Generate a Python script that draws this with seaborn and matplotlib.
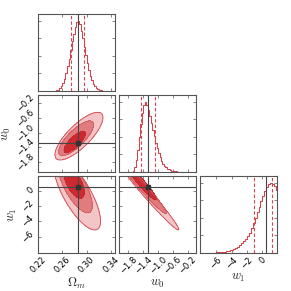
import numpy as np
import pandas as pd
import matplotlib
matplotlib.use("Agg")
import matplotlib.pyplot as plt
import seaborn as sns

# ---------------- values ----------------
param_labels = [r"$\Omega_m$", r"$w_0$", r"$w_1$"]
truths = [0.285, -1.28, 0.5]
axis_ranges = [(0.219, 0.346), (-2.06, 0.02), (-8.1, 1.9)]
axis_ticks = [[0.22, 0.26, 0.30, 0.34],
              [-1.8, -1.4, -1.0, -0.6, -0.2],
              [-6, -4, -2, 0]]
axis_ticklabels = [["0.22", "0.26", "0.30", "0.34"],
                   ["\u22121.8", "\u22121.4", "\u22121.0", "\u22120.6", "\u22120.2"],
                   ["\u22126", "\u22124", "\u22122", "0"]]
quantile_lo = [0.2737, -1.447, -1.14]
quantile_hi = [0.2957, -1.073, 1.22]

# marginal histograms (bin start, bin width, relative heights)
om_start, om_width = 0.245, 0.0025
om_hist = [0.0, 0.005, 0.01, 0.02, 0.04, 0.07, 0.11, 0.17, 0.25, 0.35, 0.46,
           0.58, 0.71, 0.82, 0.92, 0.99, 1.0, 0.95, 0.86, 0.75, 0.63, 0.51,
           0.40, 0.30, 0.22, 0.15, 0.10, 0.065, 0.04, 0.025, 0.015, 0.008,
           0.004, 0.0]
w0_start, w0_width = -1.72, 0.04
w0_hist = [0.0, 0.02, 0.07, 0.17, 0.32, 0.50, 0.68, 0.84, 0.95, 1.0, 0.96,
           0.89, 0.80, 0.70, 0.60, 0.51, 0.42, 0.34, 0.27, 0.21, 0.16, 0.12,
           0.09, 0.066, 0.048, 0.035, 0.025, 0.018, 0.013, 0.009, 0.006,
           0.004, 0.003, 0.002, 0.001, 0.001, 0.0]
w1_start, w1_width = -7.0, 0.25
w1_hist = [0.0, 0.002, 0.003, 0.004, 0.006, 0.008, 0.010, 0.013, 0.017,
           0.022, 0.028, 0.036, 0.046, 0.058, 0.072, 0.09, 0.11, 0.135,
           0.165, 0.20, 0.24, 0.29, 0.35, 0.42, 0.50, 0.58, 0.66, 0.74,
           0.82, 0.89, 0.94, 0.98, 1.00, 0.99, 0.95, 0.90]
hist_starts = [om_start, w0_start, w1_start]
hist_widths = [om_width, w0_width, w1_width]
hist_heights = [om_hist, w0_hist, w1_hist]

# 2-D confidence regions: for each pair (row, col), ellipses for the
# 99.7 %, 95 % and 68 % levels (outer -> inner)
contour_mass = [0.997, 0.954, 0.683]
pair_sigmas = {(1, 0): (0.0116, 0.189),
               (2, 0): (0.0112, 1.35),
               (2, 1): (0.245, 1.35)}
level_centers = {(1, 0): [(0.2872, -1.094), (0.2825, -1.151), (0.2803, -1.249)],
                 (2, 0): [(0.2845, -0.52), (0.2814, 0.455), (0.2790, 1.045)],
                 (2, 1): [(-1.275, -0.52), (-1.385, 0.355), (-1.418, 0.835)]}
level_rho = {(1, 0): [0.78, 0.78, 0.78],
             (2, 0): [-0.75, -0.72, -0.62],
             (2, 1): [-0.985, -0.975, -0.95]}

# ---------------- style ----------------
sns.set_style("ticks")
plt.rcParams["font.family"] = ["DejaVu Sans"]
plt.rcParams["mathtext.fontset"] = "cm"
plt.rcParams["axes.unicode_minus"] = True

RED = "#d6434a"
FILLS = ["#f3c5c6", "#e07b7e", "#cc2a30"]  # outer -> inner
EDGES = [RED, "#d45a5e", "#c42a30"]
TRUTH = "#454545"
FRAME = "#555555"

fig, axes = plt.subplots(3, 3, figsize=(2.91, 2.91), dpi=100)
fig.subplots_adjust(left=0.129, right=0.952, bottom=0.131, top=0.952,
                    wspace=0.052, hspace=0.052)

n = 3
for i in range(n):
    for j in range(n):
        ax = axes[i, j]
        if j > i:
            ax.set_visible(False)
            continue
        for s in ax.spines.values():
            s.set_color(FRAME)
            s.set_linewidth(0.8)
        ax.tick_params(direction="in", top=True, right=True, length=2.2,
                       width=0.5, colors=FRAME, labelcolor="black",
                       labelsize=6, pad=1.5)
        if i == j:
            edges = hist_starts[i] + hist_widths[i] * np.arange(len(hist_heights[i]) + 1)
            df = pd.DataFrame({"value": 0.5 * (edges[:-1] + edges[1:]),
                               "height": hist_heights[i]})
            sns.histplot(data=df, x="value", weights="height", bins=edges.tolist(),
                         element="step", fill=False, color=RED,
                         linewidth=0.75, ax=ax)
            ax.set_ylim(0, 1.1 * max(hist_heights[i]))
            ax.set_xlim(*axis_ranges[i])
            ax.axvline(truths[i], color=TRUTH, lw=0.8)
            for q in (quantile_lo[i], quantile_hi[i]):
                ax.axvline(q, color=RED, lw=0.8, ls=(0, (3, 2)))
            ax.yaxis.set_major_locator(matplotlib.ticker.MaxNLocator(5))
            ax.set_yticklabels([])
            ax.set_ylabel("")
        else:
            xr, yr = axis_ranges[j], axis_ranges[i]
            gx = np.linspace(xr[0], xr[1], 400)
            gy = np.linspace(yr[0], yr[1], 400)
            X, Y = np.meshgrid(gx, gy)
            sx, sy = pair_sigmas[(i, j)]
            for k, mass in enumerate(contour_mass):
                cx, cy = level_centers[(i, j)][k]
                rho = level_rho[(i, j)][k]
                zx = (X - cx) / sx
                zy = (Y - cy) / sy
                R2 = (zx ** 2 - 2 * rho * zx * zy + zy ** 2) / (1 - rho ** 2)
                r2 = -2.0 * np.log(1.0 - mass)
                ax.contourf(X, Y, R2, levels=[0, r2], colors=[FILLS[k]])
                ax.contour(X, Y, R2, levels=[r2], colors=[EDGES[k]],
                           linewidths=0.6)
            ax.axvline(truths[j], color=TRUTH, lw=0.8)
            ax.axhline(truths[i], color=TRUTH, lw=0.8)
            ax.plot(truths[j], truths[i], "s", color="#333333", ms=3.2)
            ax.set_xlim(*xr)
            ax.set_ylim(*yr)
            ax.set_yticks(axis_ticks[i])
            if j == 0:
                ax.set_yticklabels(axis_ticklabels[i], rotation=45, va="center")
                ax.set_ylabel(param_labels[i], fontsize=9, labelpad=1)
            else:
                ax.set_yticklabels([])
        ax.set_xticks(axis_ticks[j])
        if i == n - 1:
            ax.set_xticklabels(axis_ticklabels[j], rotation=45, ha="center")
            ax.set_xlabel(param_labels[j], fontsize=9, labelpad=1)
        else:
            ax.set_xticklabels([])
            ax.set_xlabel("")

fig.savefig("out.png", dpi=100)
